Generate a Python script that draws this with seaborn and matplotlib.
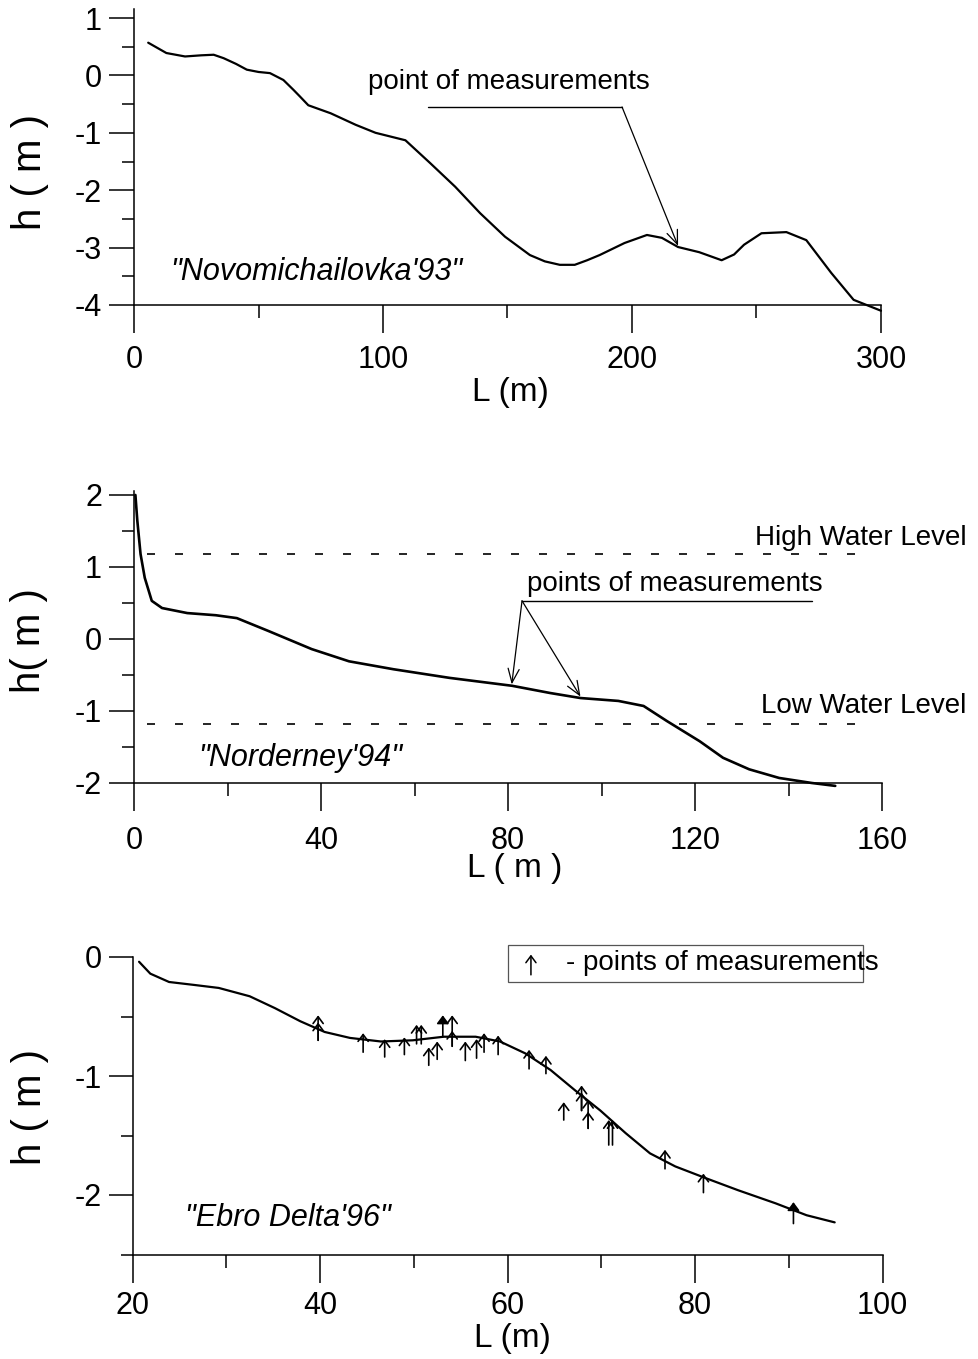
import matplotlib
matplotlib.use("Agg")
import matplotlib.pyplot as plt
import seaborn as sns
from matplotlib.ticker import MultipleLocator
from matplotlib.patches import Rectangle

# ---------------- data ----------------
# Panel 1: Novomichailovka'93
p1_L = [5.7, 13, 20.5, 27, 32, 36, 41, 45.3, 50, 54.6, 60, 64, 66.7, 70, 79, 89, 97, 109,
        119, 129, 139, 149, 159, 165, 171, 177, 182, 187, 197, 206, 212, 218.5, 227, 236,
        241, 245, 252, 262, 270, 280, 289, 300]
p1_h = [0.57, 0.39, 0.33, 0.35, 0.36, 0.30, 0.20, 0.10, 0.06, 0.04, -0.08, -0.25, -0.37,
        -0.52, -0.66, -0.86, -1.0, -1.13, -1.53, -1.94, -2.4, -2.81, -3.13, -3.24, -3.3,
        -3.3, -3.22, -3.13, -2.92, -2.78, -2.83, -2.99, -3.08, -3.22, -3.12, -2.95, -2.75,
        -2.73, -2.87, -3.44, -3.91, -4.1]

# Panel 2: Norderney'94
p2_L = [0.3, 0.7, 1.4, 2.3, 3.8, 6, 11.4, 17.5, 22, 28.8, 38, 46, 55.5, 67.5, 80.9, 89,
        95.5, 103.6, 109, 114, 121, 126, 131.6, 138, 145, 150]
p2_h = [2.0, 1.65, 1.18, 0.85, 0.53, 0.43, 0.36, 0.33, 0.29, 0.11, -0.14, -0.31, -0.42,
        -0.54, -0.65, -0.75, -0.82, -0.86, -0.93, -1.14, -1.42, -1.65, -1.81, -1.93,
        -2.0, -2.04]
high_water = 1.18
low_water = -1.18

# Panel 3: Ebro Delta'96
p3_L = [20.7, 21.9, 23.9, 26.6, 29.2, 32.5, 35.2, 37.9, 40.5, 43.2, 46.5, 49.9, 53.2,
        56.6, 59.2, 61.9, 64.6, 67.2, 69.9, 72.6, 75.2, 77.9, 81.2, 84.6, 88.6, 91.9, 94.9]
p3_h = [-0.04, -0.14, -0.21, -0.235, -0.26, -0.33, -0.43, -0.54, -0.63, -0.68, -0.71,
        -0.70, -0.67, -0.67, -0.71, -0.81, -0.95, -1.12, -1.29, -1.48, -1.65, -1.76,
        -1.86, -1.96, -2.07, -2.17, -2.23]

# measurement arrows (Ebro): position, arrow tip, arrow base, filled head
meas_L = [39.8, 39.8, 44.6, 46.9, 49.0, 50.3, 50.8, 51.6, 52.5, 53.1, 54.1, 54.1, 55.5,
          56.7, 57.5, 59.0, 62.3, 64.1, 66.0, 67.9, 67.9, 68.6, 68.6, 70.8, 71.2, 76.8,
          80.9, 90.5]
meas_tip = [-0.49, -0.55, -0.64, -0.69, -0.675, -0.57, -0.57, -0.76, -0.71, -0.49, -0.49,
            -0.62, -0.71, -0.69, -0.64, -0.66, -0.78, -0.83, -1.22, -1.08, -1.14, -1.20,
            -1.30, -1.37, -1.37, -1.62, -1.82, -2.06]
meas_base = [-0.70, -0.70, -0.80, -0.84, -0.82, -0.73, -0.73, -0.91, -0.86, -0.67, -0.75,
             -0.75, -0.87, -0.85, -0.80, -0.82, -0.94, -0.98, -1.37, -1.29, -1.29, -1.44,
             -1.44, -1.58, -1.58, -1.78, -1.98, -2.24]
meas_filled = [0, 0, 0, 0, 0, 0, 0, 0, 0, 1, 0, 0, 0, 0, 0, 0, 0, 0, 0, 0, 0, 0, 0, 0, 0,
               0, 0, 1]

# ---------------- style ----------------
sns.set_theme(style="ticks")
plt.rcParams['font.family'] = ['Liberation Sans', 'DejaVu Sans']
plt.rcParams['axes.unicode_minus'] = False
for k in ['text.color', 'axes.labelcolor', 'xtick.color', 'ytick.color', 'axes.edgecolor']:
    plt.rcParams[k] = 'black'

W, H = 979, 1359
fig = plt.figure(figsize=(W / 100, H / 100), dpi=100)
fig.patch.set_facecolor('white')

TICK = 22
ANN = 20


def add_ax(x0, x1, ytop, ybot):
    return fig.add_axes([x0 / W, 1 - ybot / H, (x1 - x0) / W, (ybot - ytop) / H])


def style(ax, xmaj, xmin, ymaj, ymin, xpad, ylen=18):
    sns.despine(ax=ax)
    ax.set_facecolor('none')
    for s in ['left', 'bottom']:
        ax.spines[s].set_linewidth(1.1)
    ax.xaxis.set_major_locator(MultipleLocator(xmaj))
    ax.xaxis.set_minor_locator(MultipleLocator(xmin))
    ax.yaxis.set_major_locator(MultipleLocator(ymaj))
    ax.yaxis.set_minor_locator(MultipleLocator(ymin))
    ax.tick_params(axis='x', which='major', direction='out', length=20, width=1.1,
                   pad=xpad, labelsize=TICK)
    ax.tick_params(axis='x', which='minor', direction='out', length=9, width=1.1)
    ax.tick_params(axis='y', which='major', direction='out', length=ylen, width=1.1,
                   pad=5, labelsize=TICK)
    ax.tick_params(axis='y', which='minor', direction='out', length=9, width=1.1)
    ax.set_xlabel('')
    ax.set_ylabel('')
    ax.grid(False)


def line(ax, x, y, lw):
    sns.lineplot(x=x, y=y, ax=ax, color='black', lw=lw, estimator=None, sort=False)
    ax.lines[-1].set_clip_on(False)
    ax.lines[-1].set_solid_joinstyle('round')
    ax.lines[-1].set_solid_capstyle('round')


def ftext(xpx, ypx, s, size, rot=0):
    fig.text(xpx / W, 1 - ypx / H, s, fontsize=size, rotation=rot, ha='center',
             va='center')


ARROW_BIG = dict(arrowstyle='->,head_length=0.5,head_width=0.2', color='black', lw=0.9,
                 shrinkA=0, shrinkB=0, mutation_scale=20)

# ---------------- panel 1 ----------------
ax1 = add_ax(134, 881, 9.4, 305)
line(ax1, p1_L, p1_h, 1.6)
ax1.set_xlim(0, 300)
ax1.set_ylim(-4, 1.15)
style(ax1, 100, 50, 1, 0.5, 9)
ax1.plot([118, 196], [-0.55, -0.55], color='black', lw=1.0)
ax1.annotate('', xy=(218.5, -2.97), xytext=(196, -0.55), arrowprops=ARROW_BIG)
ax1.text(94, -0.11, 'point of measurements', fontsize=ANN, ha='left', va='center')
ax1.text(14.5, -3.42, '"Novomichailovka\'93"', fontsize=22, style='italic', ha='left',
         va='center')
ftext(510, 392, 'L (m)', 24)
ftext(30, 172, 'h ( m )', 29, 90)

# ---------------- panel 2 ----------------
ax2 = add_ax(134, 882, 491.4, 783)
line(ax2, p2_L, p2_h, 1.9)
ax2.set_xlim(0, 160)
ax2.set_ylim(-2, 2.05)
style(ax2, 40, 20, 1, 0.5, 11)
for lev in [high_water, low_water]:
    ax2.plot([2.8, 157.7], [lev, lev], color='black', lw=1.2, ls=(0, (4.8, 12)))
ax2.text(178, 1.40, 'High Water Level', fontsize=ANN, ha='right', va='center')
ax2.text(178, -0.93, 'Low Water Level', fontsize=ANN, ha='right', va='center')
ax2.text(84, 0.76, 'points of measurements', fontsize=ANN, ha='left', va='center')
ax2.plot([83, 145], [0.53, 0.53], color='black', lw=1.0)
for tx, ty in [(80.8, -0.63), (95.5, -0.80)]:
    ax2.annotate('', xy=(tx, ty), xytext=(83, 0.53), arrowprops=ARROW_BIG)
ax2.text(13.7, -1.65, '"Norderney\'94"', fontsize=22, style='italic', ha='left',
         va='center')
ftext(515, 869, 'L ( m )', 24)
ftext(29, 641, 'h( m )', 29, 90)

# ---------------- panel 3 ----------------
ax3 = add_ax(132.5, 882.5, 957, 1254.5)
line(ax3, p3_L, p3_h, 1.6)
ax3.set_xlim(20, 100)
ax3.set_ylim(-2.5, 0)
style(ax3, 20, 10, 1, 0.5, 6, ylen=17)
for xm, t, b, f in zip(meas_L, meas_tip, meas_base, meas_filled):
    st = '-|>' if f else '->'
    ax3.annotate('', xy=(xm, t), xytext=(xm, b),
                 arrowprops=dict(arrowstyle=st + ',head_length=0.35,head_width=0.26',
                                 color='black', lw=1.2, shrinkA=0, shrinkB=0,
                                 mutation_scale=14), annotation_clip=False)
ax3.add_patch(Rectangle((60.0, -0.21), 37.9, 0.31, fill=False, edgecolor='#555555',
                        lw=0.9, clip_on=False))
ax3.annotate('', xy=(62.5, 0.02), xytext=(62.5, -0.15),
             arrowprops=dict(arrowstyle='->,head_length=0.35,head_width=0.26',
                             color='black', lw=1.1, shrinkA=0, shrinkB=0,
                             mutation_scale=14), annotation_clip=False)
ax3.text(66.2, -0.05, '- points of measurements', fontsize=ANN, ha='left', va='center')
ax3.text(25.6, -2.19, '"Ebro Delta\'96"', fontsize=22, style='italic', ha='left',
         va='center')
ftext(512, 1339, 'L (m)', 24)
ftext(30, 1107, 'h ( m )', 29, 90)

fig.savefig('out.png', dpi=100, facecolor='white')
